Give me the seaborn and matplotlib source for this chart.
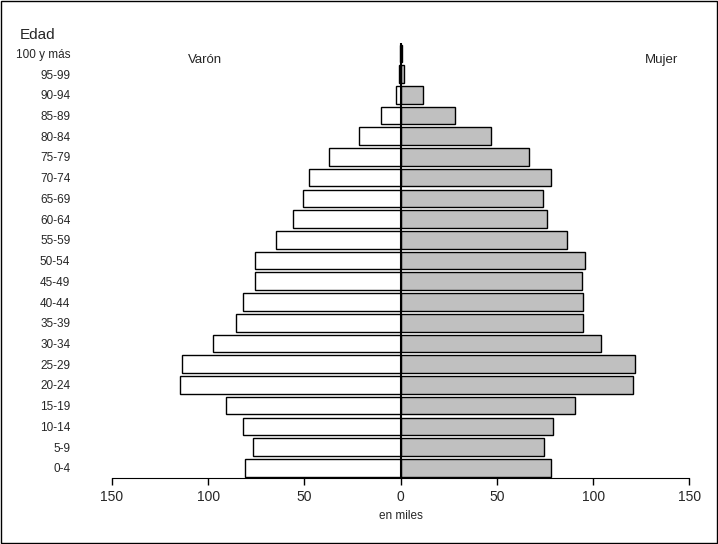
import matplotlib
matplotlib.use("Agg")
import matplotlib.pyplot as plt
import seaborn as sns
import pandas as pd
from matplotlib.patches import Rectangle

ages = ["0-4","5-9","10-14","15-19","20-24","25-29","30-34","35-39","40-44","45-49",
        "50-54","55-59","60-64","65-69","70-74","75-79","80-84","85-89","90-94","95-99","100 y más"]
male = [81,76.6,82,90.6,114.6,113.5,97.4,85.4,82,75.5,75.5,65,55.7,50.5,47.4,37,21.9,10,2.6,1,0.3]
female = [78,74.5,79,90.6,121,122,104,95,95,94,96,86.5,76,74,78,66.7,47,28,11.5,2,0.5]

sns.set_style("white")
plt.rcParams['font.family'] = ['Liberation Sans', 'DejaVu Sans']

df = pd.DataFrame({"age": ages, "male": [-m for m in male], "female": female})
order = ages[::-1]

fig = plt.figure(figsize=(7.18, 5.44), dpi=100)
ax = fig.add_axes([0.156, 0.121, 0.804, 0.80])
sns.barplot(data=df, y="age", x="male", order=order, orient="h", color="white",
            edgecolor="black", linewidth=1, width=0.85, ax=ax, saturation=1)
sns.barplot(data=df, y="age", x="female", order=order, orient="h", color="#c0c0c0",
            edgecolor="black", linewidth=1, width=0.85, ax=ax, saturation=1)
ax.set_xlim(-150, 150)
ax.set_ylim(20.5, -0.5)
ax.set_xticks([-150,-100,-50,0,50,100,150])
ax.set_xticklabels(["150","100","50","0","50","100","150"], fontsize=10)
ax.tick_params(axis="x", direction="out", length=5, width=1, color="black", bottom=True)
ax.tick_params(axis="y", length=0, pad=30, labelsize=8.5)
for lab in ax.get_yticklabels():
    lab.set_horizontalalignment("right")
ax.set_xlabel("en miles", fontsize=8.5)
ax.set_ylabel("")
for s in ["left","right","top"]:
    ax.spines[s].set_visible(False)
ax.spines["bottom"].set_color("black")
ax.axvline(0, color="black", lw=1.5, ymin=0, ymax=1.0)
fig.text(188/718, 1-60/544, "Varón", fontsize=9.5, va="center")
fig.text(645/718, 1-60/544, "Mujer", fontsize=9.5, va="center")
fig.text(20/718, 1-35/544, "Edad", fontsize=11, va="center")
fig.patches.append(Rectangle((0.002, 0.002), 0.996, 0.996, transform=fig.transFigure,
                             fill=False, edgecolor="black", lw=1))
fig.savefig("out.png", dpi=100)
